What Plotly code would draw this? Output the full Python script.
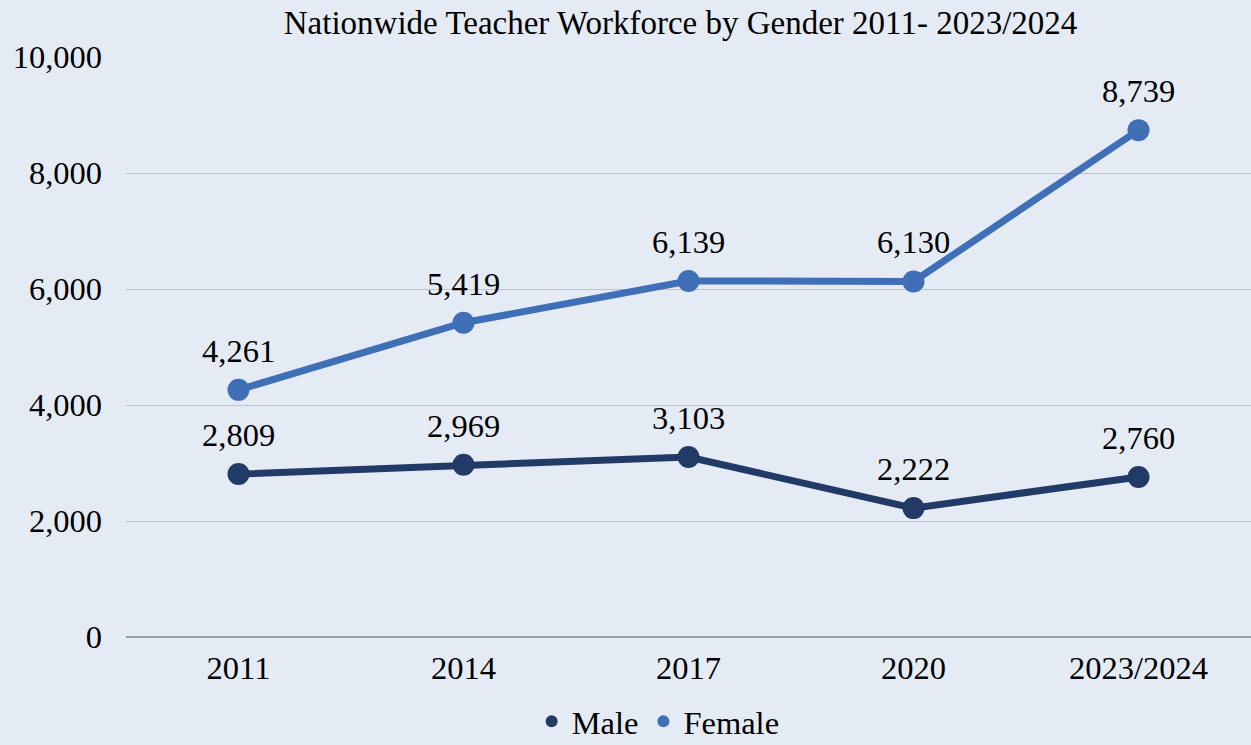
import plotly.graph_objects as go

years = ["2011", "2014", "2017", "2020", "2023/2024"]
male = [2809, 2969, 3103, 2222, 2760]
female = [4261, 5419, 6139, 6130, 8739]
tick_vals = [0, 2000, 4000, 6000, 8000, 10000]

male_color = "#213A66"
female_color = "#3F6FB6"
font_family = "Liberation Serif"
fs = 32.5

fig = go.Figure()
for name, vals, col in [("Female", female, female_color), ("Male", male, male_color)]:
    fig.add_trace(go.Scatter(
        x=years, y=vals, mode="lines+markers", name=name,
        line=dict(color=col, width=7), marker=dict(color=col, size=22),
        showlegend=False, cliponaxis=False,
    ))
    # data labels: category index positions on the category axis
    for i, yv in enumerate(vals):
        fig.add_annotation(x=i, y=yv, xref="x", yref="y", text=f"{yv:,}", showarrow=False,
                           yanchor="middle", xanchor="center", yshift=39,
                           font=dict(family=font_family, size=fs, color="black"))
# legend-only entries (dot markers)
for name, col in [("Male", male_color), ("Female", female_color)]:
    fig.add_trace(go.Scatter(
        x=[None], y=[None], mode="markers", name=name,
        marker=dict(color=col, size=9), showlegend=True,
    ))

fig.update_layout(
    width=1251, height=745,
    paper_bgcolor="#E5EBF5", plot_bgcolor="#E5EBF5",
    margin=dict(l=126, r=0, t=57, b=108, autoexpand=False),
    font=dict(family=font_family, size=fs, color="black"),
    title=dict(text="Nationwide Teacher Workforce by Gender 2011- 2023/2024",
               x=0.544, xanchor="center", y=0.970, yanchor="middle",
               font=dict(family=font_family, size=33, color="black")),
    legend=dict(orientation="h", x=0.473, xanchor="center",
                y=-0.146, yanchor="middle",
                font=dict(family=font_family, size=fs, color="black"),
                itemsizing="constant", traceorder="normal", itemwidth=30,
                tracegroupgap=0, bgcolor="rgba(0,0,0,0)"),
    xaxis=dict(type="category", range=[-0.5, 4.5], showgrid=False, showline=False,
               zeroline=False, ticks="", ticklabelstandoff=8,
               tickfont=dict(family=font_family, size=fs, color="black")),
    yaxis=dict(range=[0, 10000], tickvals=tick_vals, tickformat=",",
               showgrid=True, gridcolor="#BFC3CC", gridwidth=1,
               zeroline=True, zerolinecolor="#9A9DA5", zerolinewidth=1.5,
               ticks="", ticklabelstandoff=23,
               tickfont=dict(family=font_family, size=fs, color="black")),
)

fig.write_html("out.html", config={"displayModeBar": False},
               post_script="document.body.style.margin='0';document.body.style.overflow='hidden';")
